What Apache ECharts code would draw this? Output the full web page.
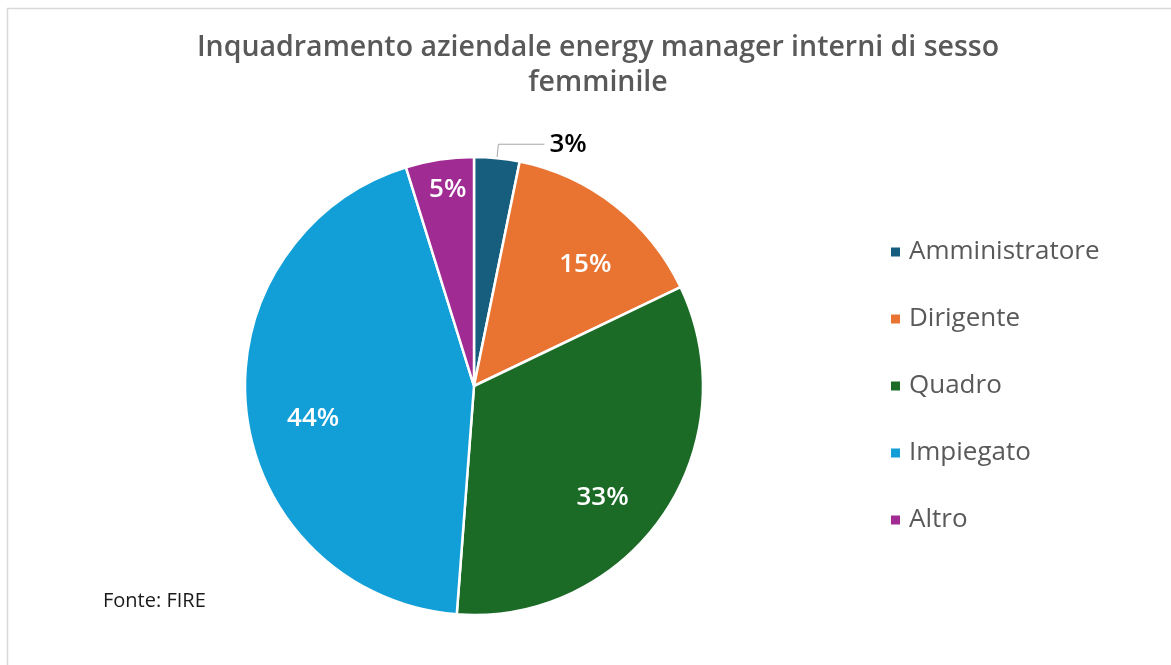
<!DOCTYPE html>
<html><head><meta charset="utf-8">
<script src="https://cdn.jsdelivr.net/npm/echarts@6/dist/echarts.min.js"></script>
<style>html,body{margin:0;padding:0;background:#fff}#c{width:1171px;height:665px}</style>
</head><body><div id="c"></div>
<script>
const titleText = 'Inquadramento aziendale energy manager interni di sesso\nfemminile';
const categories = ['Amministratore', 'Dirigente', 'Quadro', 'Impiegato', 'Altro'];
const values = [3.2, 14.7, 33.3, 44.0, 4.8];
const colors = ['#175e7e', '#e97432', '#1b6b27', '#129fd7', '#a02b93'];
const sourceText = 'Fonte: FIRE';

const chart = echarts.init(document.getElementById('c'));
const center = [474, 386];
const R = 229;
const font = '"Open Sans", sans-serif';
const labelOffsets = [[0, 0], [8, 11], [-10, 17], [6, 14], [-1, -30]];

const mainData = categories.map((n, i) => ({
  name: n, value: values[i],
  itemStyle: { color: colors[i] },
  label: i === 0 ? { show: true } : { show: false },
  labelLine: { show: i === 0 }
}));
const overlayData = categories.map((n, i) => ({
  name: n, value: values[i],
  label: { show: i !== 0, offset: labelOffsets[i] }
}));

chart.setOption({
  animation: false,
  title: {
    text: titleText, left: 593, top: 25, textAlign: 'center',
    textStyle: { fontFamily: font, fontSize: 28.5, fontWeight: 600, color: '#595959', lineHeight: 35 }
  },
  legend: {
    orient: 'vertical', left: 884, top: 234, itemGap: 41,
    icon: 'rect', itemWidth: 11, itemHeight: 11,
    data: categories,
    textStyle: { fontFamily: font, fontSize: 26, lineHeight: 26, color: '#595959', padding: [0, 0, 0, 3] }
  },
  graphic: [
    { type: 'rect', shape: { x: 7.5, y: 8.5, width: 1300, height: 800 },
      style: { fill: 'none', stroke: '#d9d9d9', lineWidth: 1.5 }, silent: true },
    { type: 'text', left: 103, top: 591,
      style: { text: sourceText, fontFamily: font, fontSize: 20, fill: '#1a1a1a' } }
  ],
  series: [
    {
      type: 'pie', center: center, radius: [0, R], startAngle: 90, clockwise: true,
      data: mainData,
      itemStyle: { borderColor: '#fff', borderWidth: 2.5 },
      label: {
        position: 'outside', formatter: p => Math.round(p.value) + '%',
        fontFamily: font, fontSize: 26, fontWeight: 600, color: '#000'
      },
      labelLine: { length: 14, length2: 46, lineStyle: { color: '#a6a6a6', width: 1 } }
    },
    {
      type: 'pie', center: center, radius: [0, R * 1.44], startAngle: 90, clockwise: true,
      silent: true, legendHoverLink: false,
      data: overlayData,
      itemStyle: { color: 'rgba(0,0,0,0)' },
      label: {
        position: 'inside', formatter: p => Math.round(p.value) + '%',
        fontFamily: font, fontSize: 26, fontWeight: 600, color: '#fff'
      },
      labelLine: { show: false }
    }
  ]
});
</script></body></html>
